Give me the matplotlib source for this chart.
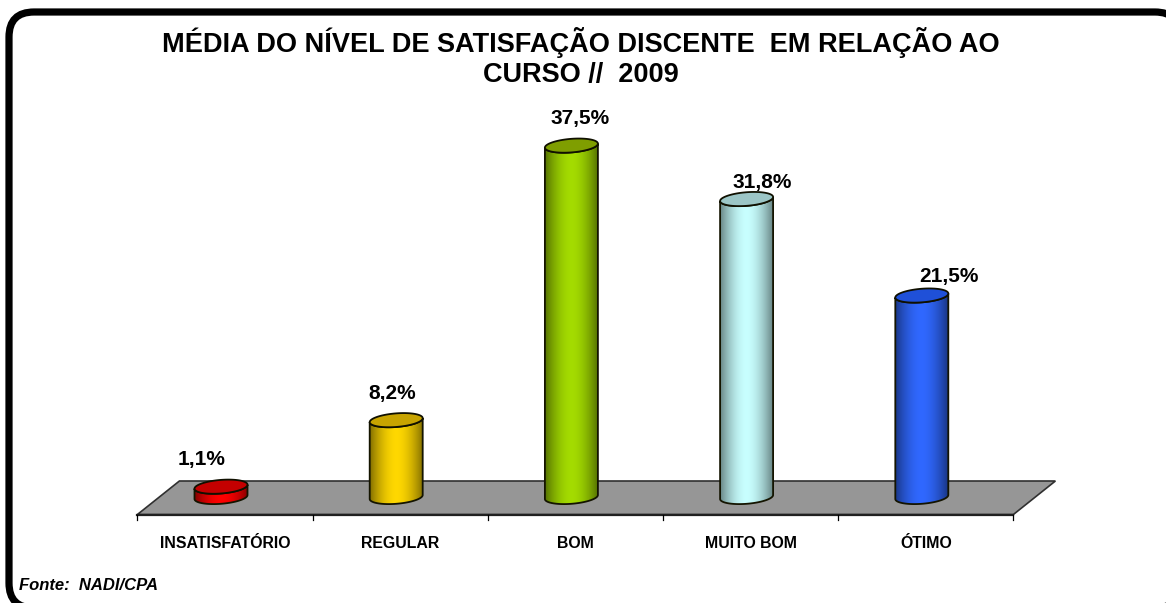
import numpy as np
import matplotlib
matplotlib.use("Agg")
import matplotlib.pyplot as plt
from matplotlib.patches import FancyBboxPatch, Polygon

plt.rcParams['font.family'] = ['Liberation Sans', 'DejaVu Sans']

categories = ["INSATISFATÓRIO", "REGULAR", "BOM", "MUITO BOM", "ÓTIMO"]
values = [1.1, 8.2, 37.5, 31.8, 21.5]
value_labels = ["1,1%", "8,2%", "37,5%", "31,8%", "21,5%"]
side_colors = ["#ff0000", "#ffd800", "#a4dc00", "#c8ffff", "#3068ff"]
top_colors = ["#c40000", "#c8a400", "#7f9e00", "#9cc6c6", "#1f50d8"]
title = "MÉDIA DO NÍVEL DE SATISFAÇÃO DISCENTE  EM RELAÇÃO AO\nCURSO //  2009"
source = "Fonte:  NADI/CPA"

W, H = 1166, 603
cat_px = 175.2
x0_px = 225
pct_px = 9.37
y0_px = 497

fig = plt.figure(figsize=(W / 100, H / 100), dpi=100)
ax = fig.add_axes([0, 0, 1, 1])
# one x unit = one category, one y unit = one percent
ax.axis("off")


def px_x(p):
    return p / cat_px


def px_y(p):
    return p / pct_px


# frame, drawn in figure pixels
frame = FancyBboxPatch((9, -5), 1171, 596, transform=None,
                       boxstyle="round,pad=0,rounding_size=25",
                       fc="white", ec="black", lw=5.2, zorder=-1)
fig.add_artist(frame)

# floor
floor_l, floor_r = -0.5, 4.5
depth_x = px_x(42)
front = px_y(-17.5)
back = px_y(16)
ax.add_patch(Polygon([(floor_l, front), (floor_r, front),
                      (floor_r + depth_x, back), (floor_l + depth_x, back)],
                     closed=True, fc="#969696", ec="#303030", lw=1.2, zorder=1))
ax.plot([floor_l, floor_r], [front, front], color="#202020", lw=1.6, zorder=1)
for i in range(len(categories) + 1):
    ax.plot([floor_l + i] * 2, [front, front - px_y(5)], color="black", lw=0.9, zorder=1)

# cylinders
t = np.linspace(0, 2 * np.pi, 121)
rx = px_x(26.5)
ry = px_y(6.8)
tilt = px_y(2)
shift = px_x(-4)
# label offsets from the category centre / bar top, in pixels
label_dx = [-23, -8, 5, 12, 23]
label_dy = [27, 27, 27, 17, 19]
for i, v in enumerate(values):
    cx = i + shift
    ex = rx * np.cos(t)
    ey = ry * np.sin(t) + tilt * np.cos(t)
    bottom = t[:61] + np.pi  # lower half, left to right
    bx = cx + rx * np.cos(bottom)
    by = ry * np.sin(bottom) + tilt * np.cos(bottom)
    tx = bx[::-1]
    ty = by[::-1] + v
    verts = np.r_[np.c_[bx, by], np.c_[tx, ty]]
    body = Polygon(verts, closed=True, fc="none", ec="none", zorder=2)
    ax.add_patch(body)
    grad = np.abs(np.linspace(-1, 1, 200))
    shade = np.array(matplotlib.colors.to_rgb(side_colors[i])) * (1 - 0.48 * grad[:, None] ** 1.8)
    im = ax.imshow(shade[None, :, :], extent=(cx - rx, cx + rx, by.min() - 1, v + ry + 1),
                   aspect="auto", zorder=2, interpolation="bilinear")
    im.set_clip_path(body)
    ax.add_patch(Polygon(verts, closed=True, fc="none", ec="#141400", lw=1.3, zorder=3))
    ax.add_patch(Polygon(np.c_[cx + ex, v + ey], closed=True, fc=top_colors[i],
                         ec="#101000", lw=1.3, zorder=4))
    ax.text(i + px_x(label_dx[i]), v + px_y(label_dy[i]), value_labels[i],
            ha="center", va="center", fontsize=15, fontweight="bold", color="black", zorder=5)
    ax.text(i, px_y(-46), categories[i], ha="center", va="center",
            fontsize=11.4, fontweight="bold", color="black", zorder=5)

ax.set_xlim(-x0_px / cat_px, (W - x0_px) / cat_px)
ax.set_ylim((y0_px - H) / pct_px, y0_px / pct_px)

fig.text(581 / W, 1 - 57.5 / H, title, ha="center", va="center", fontsize=19.5,
         fontweight="bold", color="black", linespacing=1.2)
fig.text(19 / W, 1 - 586 / H, source, ha="left", va="center", fontsize=12,
         fontweight="bold", fontstyle="italic", color="black")

fig.savefig("out.png", dpi=100)
